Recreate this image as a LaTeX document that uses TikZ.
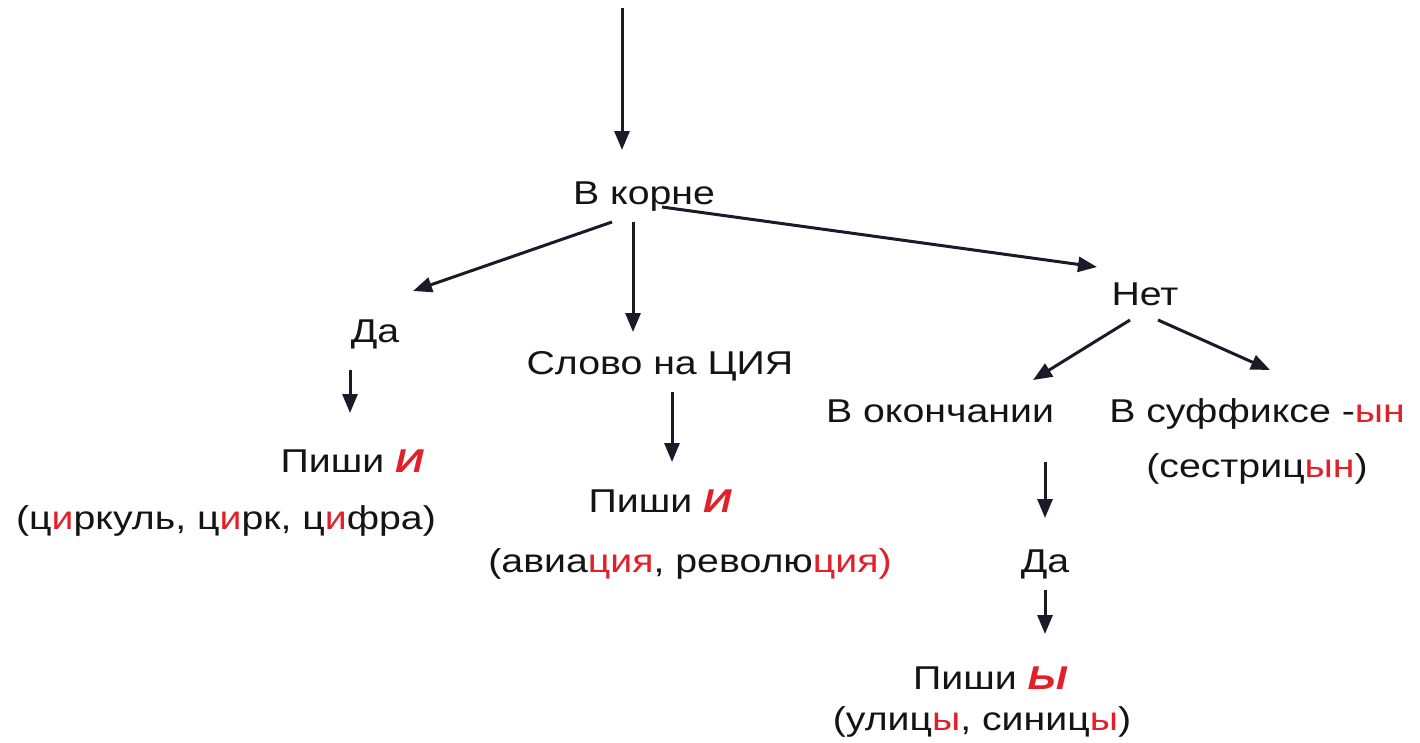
\documentclass[tikz,border=0pt]{standalone}
\usepackage{fontspec}
\setmainfont{Liberation Sans}[FakeStretch=1.19]
\usetikzlibrary{arrows.meta,calc}
\definecolor{txt}{HTML}{141414}
\definecolor{arrc}{HTML}{1C1A28}
\definecolor{hl}{HTML}{E3202A}
\newcommand{\rd}[1]{\textcolor{hl}{#1}}
\newcommand{\bigI}[1]{\textcolor{hl}{\bfseries\itshape #1}}
\tikzset{
  lbl/.style={anchor=base, inner sep=0pt, text=txt, font=\fontsize{33}{37}\selectfont},
  arr/.style={draw=arrc, line width=3pt, -{Triangle[length=19pt,width=15pt]}}
}
\begin{document}
\begin{tikzpicture}[x=1pt,y=-1pt]
\useasboundingbox[fill=white] (0,0) rectangle (1420,742);
% nodes
\node[lbl] (kor) at (644,204) {В корне};
\node[lbl] (da1) at (375,342) {Да};
\node[lbl] (slovo) at (660,374) {Слово на ЦИЯ};
\node[lbl] (net) at (1145,305) {Нет};
\node[lbl] (pishi1) at (352,472) {Пиши \bigI{И}};
\node[lbl] (ex1) at (226,529) {(ц\rd{и}ркуль, ц\rd{и}рк, ц\rd{и}фра)};
\node[lbl] (pishi2) at (660,512) {Пиши \bigI{И}};
\node[lbl] (ex2) at (690,572) {(авиа\rd{ция}, револю\rd{ция)}};
\node[lbl] (okon) at (940,422) {В окончании};
\node[lbl] (suff) at (1257,422) {В суффиксе -\rd{ын}};
\node[lbl] (exs) at (1257,477) {(сестриц\rd{ын})};
\node[lbl] (da2) at (1045,572) {Да};
\node[lbl] (pishi3) at (990,689) {Пиши \bigI{Ы}};
\node[lbl] (ex3) at (982,730) {(улиц\rd{ы}, синиц\rd{ы})};
\coordinate (top) at (622,8);
% connectors
\draw[arr] (top) -- ($(kor.base)+(-22,-54)$);
\draw[arr] ($(kor.base)+(-32,18)$) -- ($(da1.base)+(38,-51)$);
\draw[arr] ($(kor.base)+(-11,18)$) -- ($(slovo.base)+(-27,-42)$);
\draw[arr] ($(kor.base)+(18,3)$) -- ($(net.base)+(-48,-38)$);
\draw[arr] ($(da1.base)+(-25,28)$) -- ($(pishi1.base)+(-2,-59)$);
\draw[arr] ($(slovo.base)+(12,18)$) -- ($(pishi2.base)+(12,-50)$);
\draw[arr] ($(net.base)+(-15,15)$) -- ($(okon.base)+(93,-42)$);
\draw[arr] ($(net.base)+(13,15)$) -- ($(suff.base)+(13,-52)$);
\draw[arr] ($(okon.base)+(105,40)$) -- ($(da2.base)+(0,-54)$);
\draw[arr] ($(da2.base)+(0,18)$) -- ($(pishi3.base)+(55,-55)$);
\end{tikzpicture}
\end{document}
